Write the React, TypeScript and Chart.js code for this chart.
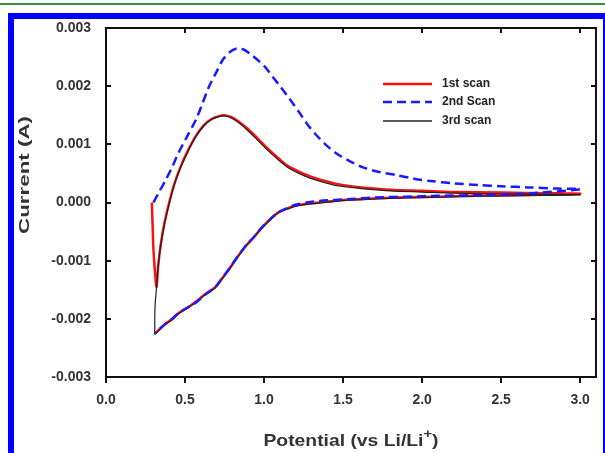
import React, { useEffect, useRef } from "react";
import { Chart, registerables } from "chart.js";

Chart.register(...registerables);

// Axis ticks
const xTicks = [0, 0.5, 1.0, 1.5, 2.0, 2.5, 3.0];
const yTicks = [-0.003, -0.002, -0.001, 0, 0.001, 0.002, 0.003];

// Series labels
const seriesLabels = ["1st scan", "2nd Scan", "3rd scan"];

// 1st scan: potential (V) and current (mA)
const scan1V = [
  0.29, 0.295, 0.3, 0.31, 0.32, 0.33, 0.345, 0.37, 0.4, 0.43, 0.47, 0.52, 0.57, 0.62, 0.67, 0.72, 0.75, 0.79,
  0.84, 0.9, 0.96, 1.03, 1.1, 1.15, 1.22, 1.3, 1.4, 1.46, 1.55, 1.65, 1.8, 2.0, 2.2, 2.5, 2.8, 3.0,
  2.7, 2.4, 2.1, 1.9, 1.7, 1.55, 1.45, 1.35, 1.25, 1.19, 1.15, 1.09, 1.05, 0.99, 0.94, 0.88, 0.82, 0.78,
  0.73, 0.69, 0.63, 0.57, 0.52, 0.46, 0.42, 0.37, 0.31,
];
const scan1mA = [
  0.0, -0.4, -0.8, -1.2, -1.45, -1.1, -0.75, -0.35, 0.0, 0.3, 0.6, 0.9, 1.15, 1.33, 1.44, 1.49, 1.5, 1.47,
  1.39, 1.26, 1.1, 0.91, 0.74, 0.63, 0.53, 0.44, 0.36, 0.32, 0.28, 0.25, 0.22, 0.2, 0.18, 0.17, 0.16, 0.15,
  0.13, 0.12, 0.1, 0.09, 0.07, 0.05, 0.03, 0.0, -0.03, -0.06, -0.1, -0.17, -0.26, -0.42, -0.58, -0.76, -0.98, -1.14,
  -1.32, -1.46, -1.57, -1.7, -1.8, -1.9, -2.0, -2.1, -2.25,
];

// 2nd scan
const scan2V = [
  0.3, 0.34, 0.38, 0.42, 0.46, 0.51, 0.57, 0.61, 0.65, 0.7, 0.74, 0.79, 0.83, 0.87, 0.91, 0.96, 1.01, 1.06,
  1.11, 1.17, 1.22, 1.27, 1.33, 1.4, 1.47, 1.55, 1.63, 1.72, 1.84, 1.95, 2.05, 2.2, 2.36, 2.5, 2.67, 2.85, 3.0,
  2.7, 2.4, 2.1, 1.9, 1.7, 1.55, 1.45, 1.35, 1.27, 1.2, 1.15, 1.09, 1.05, 0.99, 0.94, 0.88, 0.82, 0.78,
  0.73, 0.69, 0.63, 0.57, 0.52, 0.46, 0.42, 0.37, 0.31,
];
const scan2mA = [
  0.0, 0.2, 0.4, 0.62, 0.86, 1.12, 1.43, 1.7, 1.98, 2.25, 2.46, 2.6, 2.65, 2.63, 2.56, 2.45, 2.32, 2.14,
  1.97, 1.75, 1.56, 1.36, 1.16, 0.97, 0.82, 0.7, 0.6, 0.53, 0.47, 0.41, 0.37, 0.33, 0.3, 0.28, 0.26, 0.24, 0.23,
  0.16, 0.13, 0.115, 0.1, 0.085, 0.06, 0.045, 0.025, 0.0, -0.04, -0.09, -0.17, -0.26, -0.42, -0.58, -0.76, -0.98, -1.14,
  -1.32, -1.46, -1.58, -1.72, -1.8, -1.9, -2.0, -2.1, -2.25,
];

// 3rd scan
const scan3V = [
  0.308, 0.31, 0.32, 0.33, 0.345, 0.37, 0.4, 0.43, 0.47, 0.52, 0.57, 0.62, 0.67, 0.72, 0.75, 0.79, 0.84, 0.9,
  0.96, 1.03, 1.1, 1.15, 1.22, 1.3, 1.4, 1.46, 1.55, 1.65, 1.8, 2.0, 2.2, 2.5, 2.8, 3.0,
  2.7, 2.4, 2.1, 1.9, 1.7, 1.55, 1.45, 1.35, 1.25, 1.19, 1.15, 1.09, 1.05, 0.99, 0.94, 0.88, 0.82, 0.78,
  0.73, 0.69, 0.63, 0.57, 0.52, 0.46, 0.42, 0.37, 0.308,
];
const scan3mA = [
  -2.27, -1.8, -1.45, -1.1, -0.76, -0.37, -0.02, 0.29, 0.59, 0.89, 1.14, 1.32, 1.43, 1.48, 1.49, 1.46, 1.37, 1.23,
  1.07, 0.88, 0.71, 0.6, 0.5, 0.41, 0.33, 0.29, 0.26, 0.23, 0.2, 0.18, 0.16, 0.15, 0.14, 0.13,
  0.12, 0.11, 0.09, 0.08, 0.06, 0.04, 0.02, -0.01, -0.04, -0.07, -0.11, -0.18, -0.27, -0.43, -0.59, -0.77, -0.99, -1.15,
  -1.33, -1.47, -1.58, -1.71, -1.81, -1.91, -2.01, -2.11, -2.27,
];

const FONT = "'Liberation Sans', Arial, Helvetica, sans-serif";

function toPoints(v: number[], mA: number[]) {
  return v.map((x, i) => ({ x, y: mA[i] / 1000 }));
}

const decorPlugin = {
  id: "decor",
  afterDraw(chart: any) {
    const { ctx, chartArea: a, scales } = chart;
    const xs = scales.x;
    const ys = scales.y;
    ctx.save();
    // frame
    ctx.strokeStyle = "#111";
    ctx.lineWidth = 2;
    ctx.strokeRect(a.left, a.top, a.right - a.left, a.bottom - a.top);
    // tick marks
    ctx.lineWidth = 2;
    ctx.beginPath();
    xTicks.forEach((v) => {
      const px = Math.round(xs.getPixelForValue(v));
      ctx.moveTo(px, a.bottom);
      ctx.lineTo(px, a.bottom + 6);
      ctx.moveTo(px, a.top);
      ctx.lineTo(px, a.top + 5);
    });
    yTicks.forEach((v) => {
      const py = Math.round(ys.getPixelForValue(v));
      ctx.moveTo(a.left, py);
      ctx.lineTo(a.left + 5, py);
      ctx.moveTo(a.right, py);
      ctx.lineTo(a.right - 5, py);
    });
    ctx.stroke();

    // y axis title (stretched along its length)
    ctx.fillStyle = "#333";
    ctx.font = `bold 15px ${FONT}`;
    ctx.textAlign = "center";
    ctx.textBaseline = "middle";
    const yt = "Current (A)";
    const yw = ctx.measureText(yt).width;
    ctx.save();
    ctx.translate(25, 175);
    ctx.rotate(-Math.PI / 2);
    ctx.scale(118 / yw, 1);
    ctx.fillText(yt, 0, 0);
    ctx.restore();

    // x axis title with superscript
    const main = "Potential (vs Li/Li";
    const sup = "+";
    const end = ")";
    ctx.font = `bold 17px ${FONT}`;
    const wMain = ctx.measureText(main).width;
    const wEnd = ctx.measureText(end).width;
    ctx.font = `bold 13px ${FONT}`;
    const wSup = ctx.measureText(sup).width;
    const total = wMain + wSup + wEnd;
    const sx = 175 / total;
    const cx = (a.left + a.right) / 2;
    ctx.save();
    ctx.translate(cx, 446);
    ctx.scale(sx, 1);
    ctx.textAlign = "left";
    ctx.textBaseline = "alphabetic";
    let x0 = -total / 2;
    ctx.font = `bold 17px ${FONT}`;
    ctx.fillText(main, x0, 0);
    x0 += wMain;
    ctx.font = `bold 13px ${FONT}`;
    ctx.fillText(sup, x0, -8);
    x0 += wSup;
    ctx.font = `bold 17px ${FONT}`;
    ctx.fillText(end, x0, 0);
    ctx.restore();

    // legend
    const rows = [84, 102, 121];
    chart.data.datasets.forEach((ds: any, i: number) => {
      const y = rows[i];
      ctx.save();
      ctx.strokeStyle = ds.borderColor;
      ctx.lineWidth = ds.legendWidth || ds.borderWidth;
      ctx.setLineDash(ds.borderDash || []);
      ctx.beginPath();
      ctx.moveTo(383, y);
      ctx.lineTo(432, y);
      ctx.stroke();
      ctx.restore();
      ctx.fillStyle = "#222";
      ctx.font = `bold 12px ${FONT}`;
      ctx.textAlign = "left";
      ctx.textBaseline = "middle";
      ctx.fillText(ds.label, 442, y);
    });
    ctx.restore();
  },
};

export default function App() {
  const canvasRef = useRef<HTMLCanvasElement | null>(null);

  useEffect(() => {
    const canvas = canvasRef.current;
    if (!canvas) return;
    const chart = new Chart(canvas, {
      type: "scatter",
      data: {
        datasets: [
          {
            label: seriesLabels[0],
            data: toPoints(scan1V, scan1mA),
            showLine: true,
            borderColor: "#ff1010",
            borderWidth: 2.5,
            pointRadius: 0,
            tension: 0.3,
            order: 2,
          },
          {
            label: seriesLabels[1],
            data: toPoints(scan2V, scan2mA),
            showLine: true,
            borderColor: "#1a1aff",
            borderWidth: 2.5,
            borderDash: [9, 5],
            pointRadius: 0,
            tension: 0.3,
            order: 0,
          },
          {
            label: seriesLabels[2],
            data: toPoints(scan3V, scan3mA),
            showLine: true,
            borderColor: "#222222",
            borderWidth: 1.2,
            legendWidth: 1.5,
            pointRadius: 0,
            tension: 0.3,
            order: 1,
          } as any,
        ],
      },
      options: {
        responsive: false,
        maintainAspectRatio: false,
        devicePixelRatio: 1,
        animation: false,
        layout: { padding: { left: 0, top: 28, right: 3, bottom: 0 } },
        plugins: {
          legend: { display: false },
          tooltip: { enabled: false },
          title: { display: false },
        },
        scales: {
          x: {
            type: "linear",
            min: 0,
            max: 3.1,
            afterBuildTicks: (scale: any) => {
              scale.ticks = xTicks.map((value) => ({ value }));
            },
            afterFit: (scale: any) => {
              scale.height = 76;
            },
            grid: { display: false, drawTicks: false },
            border: { display: false },
            ticks: {
              padding: 15,
              color: "#333",
              font: { family: FONT, size: 14, weight: "bold" },
              callback: (v: any) => Number(v).toFixed(1),
              maxRotation: 0,
              autoSkip: false,
            },
          },
          y: {
            type: "linear",
            min: -0.003,
            max: 0.003,
            afterBuildTicks: (scale: any) => {
              scale.ticks = yTicks.map((value) => ({ value }));
            },
            afterFit: (scale: any) => {
              scale.width = 106;
            },
            grid: { display: false, drawTicks: false },
            border: { display: false },
            ticks: {
              padding: 15,
              color: "#333",
              font: { family: FONT, size: 14, weight: "bold" },
              callback: (v: any) => Number(v).toFixed(3),
              autoSkip: false,
            },
          },
        },
      },
      plugins: [decorPlugin],
    });
    return () => chart.destroy();
  }, []);

  return (
    <div
      style={{
        position: "fixed",
        left: 0,
        top: 0,
        width: 605,
        height: 453,
        background: "#ffffff",
        overflow: "hidden",
      }}
    >
      <div
        style={{
          position: "absolute",
          left: 0,
          top: 3,
          width: 605,
          height: 2,
          background: "#3a8f46",
        }}
      />
      <div
        style={{
          position: "absolute",
          left: 8,
          top: 13,
          width: 601,
          height: 460,
          boxSizing: "border-box",
          borderTop: "6px solid #0000ff",
          borderLeft: "6px solid #0000ff",
          borderRight: "6px solid #0000ff",
          background: "#ffffff",
        }}
      />
      <canvas
        ref={canvasRef}
        width={605}
        height={453}
        style={{ position: "absolute", left: 0, top: 0, width: 605, height: 453 }}
      />
    </div>
  );
}
